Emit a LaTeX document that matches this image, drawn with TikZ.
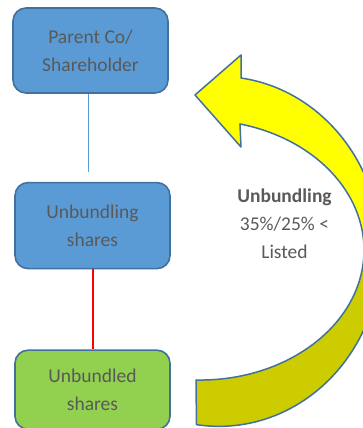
\documentclass[tikz,border=0pt]{standalone}
\usepackage{fontspec}
\setmainfont{Carlito}
\usepackage{tikz}
\usetikzlibrary{positioning}

\definecolor{boxblue}{HTML}{5B9BD5}
\definecolor{boxgreen}{HTML}{92D050}
\definecolor{edgeblue}{HTML}{41719C}
\definecolor{arrowyellow}{HTML}{FFFF00}
\definecolor{arrowolive}{HTML}{CCCC00}
\definecolor{textgray}{HTML}{595959}

\tikzset{
  sharebox/.style={draw=edgeblue, line width=1.6pt, rounded corners=13pt,
    minimum width=155pt, text=textgray, align=center,
    font=\fontsize{19.5}{28}\selectfont},
}

\newcommand{\bendarrowpath}{(195,333) -- (241,373) -- (241,350)
  arc[start angle=82.2, end angle=-98, x radius=162, y radius=175]
  -- (196,48)
  arc[start angle=-91.4, end angle=75.9, x radius=164, y radius=130]
  -- (241,281) -- cycle}

\begin{document}
\begin{tikzpicture}[x=1pt, y=1pt]
  \useasboundingbox (0,0) rectangle (363,428);
  \clip (0,0) rectangle (363,428);

  % boxes
  \node (parent) [sharebox, fill=boxblue, minimum height=85pt] at (90.5,377.5) {Parent Co/\\Shareholder};
  \node (unbundling) [sharebox, fill=boxblue, minimum height=86pt, below=88pt of parent, xshift=2pt] {Unbundling\\shares};
  \node (unbundled) [sharebox, fill=boxgreen, minimum height=79pt, below=80pt of unbundling] {Unbundled\\shares};
  \coordinate (parentend) at (88,256);

  \draw[boxblue, line width=1pt] (parent.south -| parentend) -- (parentend);
  \draw[red, line width=2pt] (unbundling) -- (unbundled);

  % curved arrow
  \fill[arrowyellow] \bendarrowpath;
  \begin{scope}
    \clip (0,0) rectangle (363,178);
    \fill[arrowolive] \bendarrowpath;
  \end{scope}
  \draw[edgeblue, line width=1.5pt, line join=round] \bendarrowpath;

  \node (rule) [text=textgray, align=center, font=\fontsize{19.5}{28}\selectfont] at (284.5,204)
    {\textbf{Unbundling}\\35\%/25\% <\\Listed};
\end{tikzpicture}
\end{document}
